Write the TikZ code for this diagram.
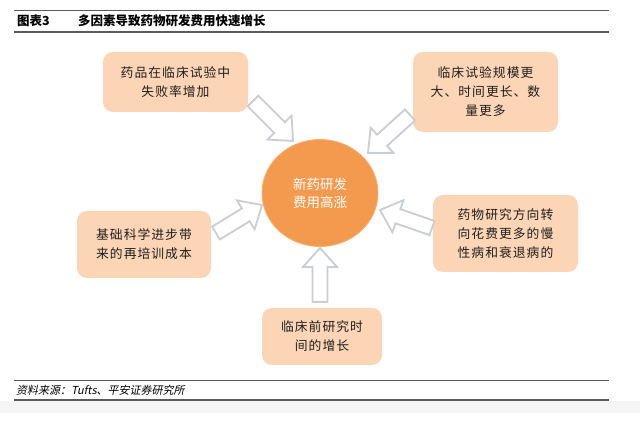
\documentclass[tikz,border=0pt]{standalone}
\usepackage{fontspec}
\usetikzlibrary{calc,shapes.geometric}
\newfontfamily\cjk{Noto Sans CJK SC}
\newfontfamily\cjkbox[LetterSpace=8]{Noto Sans CJK SC}
\newfontfamily\cjkit[FakeSlant=0.2]{Noto Sans CJK SC}
\definecolor{boxfill}{HTML}{FBD5B5}
\definecolor{circfill}{HTML}{F49A4E}
\definecolor{arrowgray}{HTML}{C9CED3}
\definecolor{rulegray}{HTML}{5A5A5A}
\newcommand{\shw}{7.5pt}
\newcommand{\hdw}{17pt}
\newcommand{\hdl}{19pt}
\newcommand{\blockarr}[2]{%
  \coordinate (ba-q) at ($(#2)!\hdl!(#1)$);
  \draw[blockarrow] ($(#1)!\shw!90:(#2)$) -- ($(ba-q)!\shw!-90:(#1)$) -- ($(ba-q)!\hdw!-90:(#1)$) -- (#2) -- ($(ba-q)!\hdw!90:(#1)$) -- ($(ba-q)!\shw!90:(#1)$) -- ($(#1)!\shw!-90:(#2)$) -- cycle;
}
\tikzset{
  cause/.style={fill=boxfill, rounded corners=10pt, inner sep=0pt, align=center,
    font=\cjkbox\fontsize{12.8}{19}\selectfont, text=black!88},
  blockarrow/.style={draw=arrowgray, line width=1.8pt, fill=white, line join=miter},
  rulel/.style={draw=rulegray, line width=1.2pt},
}
\begin{document}
\begin{tikzpicture}[x=1pt,y=-1pt]
\useasboundingbox[fill=white] (0,0) rectangle (640,435);
\fill[black!4] (0,401) rectangle (640,413);
% rules
\coordinate (r1a) at (14,10); \coordinate (r1b) at (609,10);
\coordinate (r2a) at (14,32); \coordinate (r2b) at (609,32);
\coordinate (r3a) at (14,380); \coordinate (r3b) at (609,380);
\coordinate (r4a) at (14,400); \coordinate (r4b) at (609,400);
\draw[rulel, line width=0.9pt] (r1a) -- (r1b);
\draw[rulel] (r2a) -- (r2b);
\draw[rulel, line width=0.9pt] (r3a) -- (r3b);
\draw[rulel] (r4a) -- (r4b);
% title
\node[anchor=west, inner sep=0pt, font=\cjk\bfseries\fontsize{12.5}{14}\selectfont] (t1) at (17,21) {图表3};
\node[anchor=west, inner sep=0pt, font=\cjk\bfseries\fontsize{12.5}{14}\selectfont] (t2) at (78,21) {多因素导致药物研发费用快速增长};
% footer
\node[anchor=west, inner sep=0pt, font=\cjkit\fontsize{11}{13}\selectfont] (src) at (16,390.5) {资料来源：Tufts、平安证券研究所};
% boxes
\node[cause, minimum width=145pt, minimum height=60pt] (b1) at (175.5,82) {药品在临床试验中\\失败率增加};
\node[cause, minimum width=145pt, minimum height=80pt] (b2) at (485.5,92) {临床试验规模更\\大、时间更长、数\\量更多};
\node[cause, minimum width=145pt, minimum height=77pt] (b3) at (505.5,233.5) {药物研究方向转\\向花费更多的慢\\性病和衰退病的};
\node[cause, minimum width=134pt, minimum height=67pt] (b4) at (144,244.5) {基础科学进步带\\来的再培训成本};
\node[cause, minimum width=120pt, minimum height=57pt] (b5) at (322,336.5) {临床前研究时\\间的增长};
% circle
\node[ellipse, fill=circfill, draw=circfill!80!white, line width=0.8pt, minimum width=116pt, minimum height=107pt, inner sep=0pt,
  align=center, text=white, font=\cjk\fontsize{13.5}{18}\selectfont] (c) at (320,193) {新药研发\\费用高涨};
% arrows
\coordinate (a1s) at (253,101); \coordinate (a1e) at (293,141);
\coordinate (a2s) at (410,115); \coordinate (a2e) at (368,153);
\coordinate (a3s) at (216,233); \coordinate (a3e) at (262,205);
\coordinate (a4s) at (432,228); \coordinate (a4e) at (380,210);
\coordinate (a5s) at (320,302); \coordinate (a5e) at (320,248);
\blockarr{a1s}{a1e}
\blockarr{a2s}{a2e}
\blockarr{a3s}{a3e}
\blockarr{a4s}{a4e}
\blockarr{a5s}{a5e}
\end{tikzpicture}
\end{document}
